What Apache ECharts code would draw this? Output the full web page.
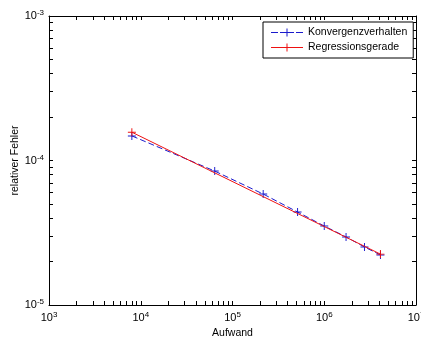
<!DOCTYPE html>
<html>
<head>
<meta charset="utf-8">
<script src="https://cdn.jsdelivr.net/npm/echarts@6/dist/echarts.min.js"></script>
<style>
  html, body { margin: 0; padding: 0; background: #fff; }
  #chartRoot { width: 421px; height: 342px; }
</style>
</head>
<body>
<div id="chartRoot"></div>
<script>
// Aufwand (x) und relativer Fehler (y)
const effort = [8000, 64000, 216000, 512000, 1000000, 1728000, 2744000, 4096000];
const relError = [1.48e-4, 8.45e-5, 5.86e-5, 4.40e-5, 3.52e-5, 2.96e-5, 2.52e-5, 2.22e-5];
// Regressionsgerade: nur Anfangs- und Endpunkt
const regEffort = [8000, 4096000];
const regError = [1.57e-4, 2.25e-5];

// Tickpositionen (MATLAB-artig: 1..9 je Dekade)
const xTicks = [1e3, 2e3, 3e3, 4e3, 5e3, 6e3, 7e3, 8e3, 9e3,
  1e4, 2e4, 3e4, 4e4, 5e4, 6e4, 7e4, 8e4, 9e4,
  1e5, 2e5, 3e5, 4e5, 5e5, 6e5, 7e5, 8e5, 9e5,
  1e6, 2e6, 3e6, 4e6, 5e6, 6e6, 7e6, 8e6, 9e6, 1e7];
const yTicks = [1e-5, 2e-5, 3e-5, 4e-5, 5e-5, 6e-5, 7e-5, 8e-5, 9e-5,
  1e-4, 2e-4, 3e-4, 4e-4, 5e-4, 6e-4, 7e-4, 8e-4, 9e-4, 1e-3];
const xLabels = [1e3, 1e4, 1e5, 1e6, 1e7];
const yLabels = [1e-5, 1e-4, 1e-3];

const plus = "path://M4.4,0 H5.6 V4.4 H10 V5.6 H5.6 V10 H4.4 V5.6 H0 V4.4 H4.4 Z";
// Legendensymbole: Linie (gestrichelt bzw. durchgezogen) mit Plus in der Mitte
const iconDash = "path://M0,3.5 H7 V4.5 H0 Z M9,3.5 H23 V4.5 H9 Z M25,3.5 H32 V4.5 H25 Z M15.5,0 H16.5 V8 H15.5 Z";
const iconSolid = "path://M0,3.5 H32 V4.5 H0 Z M15.5,0 H16.5 V8 H15.5 Z";
const FONT = "Liberation Sans";
const blue = "#1a1acc";
const red = "#ee1111";
const blueDash = [6, 3];

const powLabel = (v) => "{b|10}{s|" + Math.round(Math.log10(v)) + "}";
const rich = {
  b: { fontSize: 11, fontFamily: FONT, color: "#000" },
  s: { fontSize: 8, fontFamily: FONT, color: "#000", verticalAlign: "top", padding: [0, 0, 6, 0] },
};

const axisLine = { show: true, onZero: false, lineStyle: { color: "#000", width: 1 } };
const tick = (vals) => ({ show: true, inside: true, length: 4, customValues: vals, lineStyle: { color: "#000" } });

const chartDom = document.getElementById("chartRoot");
const myChart = echarts.init(chartDom, null, { renderer: "canvas" });
const option = {
  animation: false,
  textStyle: { fontFamily: FONT },
  grid: { left: 49, right: 5, top: 16, bottom: 37, outerBoundsMode: "none", containLabel: false },
  legend: {
    orient: "vertical",
    left: 263,
    top: 22,
    padding: [5, 6, 5, 8],
    itemGap: 4,
    itemWidth: 32,
    itemHeight: 8,
    borderColor: "#000",
    borderWidth: 1,
    backgroundColor: "#fff",
    textStyle: { fontSize: 10.5, fontFamily: FONT, color: "#000" },
    data: [
      { name: "Konvergenzverhalten", icon: iconDash, itemStyle: { color: blue, borderWidth: 0 } },
      { name: "Regressionsgerade", icon: iconSolid, itemStyle: { color: red, borderWidth: 0 } },
    ],
  },
  xAxis: [
    {
      type: "log",
      logBase: 10,
      min: 1e3,
      max: 1e7,
      position: "bottom",
      name: "Aufwand",
      nameLocation: "middle",
      nameGap: 23,
      nameMoveOverlap: false,
      nameTextStyle: { fontSize: 10.5, fontFamily: FONT, color: "#000" },
      axisLine,
      axisTick: tick(xTicks),
      minorTick: { show: false },
      splitLine: { show: false },
      axisLabel: { customValues: xLabels, formatter: powLabel, rich, margin: 6 },
    },
    {
      type: "log",
      logBase: 10,
      min: 1e3,
      max: 1e7,
      position: "top",
      axisLine,
      axisTick: tick(xTicks),
      splitLine: { show: false },
      axisLabel: { show: false },
    },
  ],
  yAxis: [
    {
      type: "log",
      logBase: 10,
      min: 1e-5,
      max: 1e-3,
      position: "left",
      name: "relativer Fehler",
      nameLocation: "middle",
      nameGap: 28,
      nameMoveOverlap: false,
      nameTextStyle: { fontSize: 10.5, fontFamily: FONT, color: "#000" },
      axisLine,
      axisTick: tick(yTicks),
      splitLine: { show: false },
      axisLabel: { customValues: yLabels, formatter: powLabel, rich, margin: 5 },
    },
    {
      type: "log",
      logBase: 10,
      min: 1e-5,
      max: 1e-3,
      position: "right",
      axisLine,
      axisTick: tick(yTicks),
      splitLine: { show: false },
      axisLabel: { show: false },
    },
  ],
  series: [
    {
      name: "Konvergenzverhalten",
      type: "line",
      data: effort.map((x, i) => [x, relError[i]]),
      symbol: plus,
      symbolSize: 8,
      showAllSymbol: true,
      itemStyle: { color: blue },
      lineStyle: { color: blue, width: 1, type: blueDash },
      z: 2,
    },
    {
      name: "Regressionsgerade",
      type: "line",
      data: regEffort.map((x, i) => [x, regError[i]]),
      symbol: plus,
      symbolSize: 8,
      itemStyle: { color: red },
      lineStyle: { color: red, width: 1 },
      z: 3,
    },
  ],
};
myChart.setOption(option);
</script>
</body>
</html>
